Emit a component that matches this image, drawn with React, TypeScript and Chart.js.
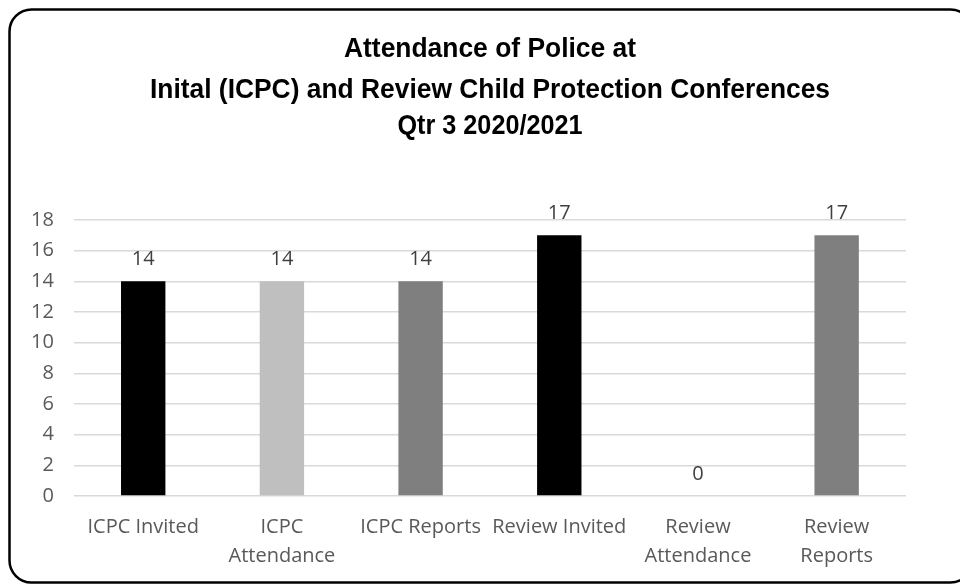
import React, { useEffect, useRef } from "react";
import { Chart, registerables } from "chart.js";

Chart.register(...registerables);

const categories: (string | string[])[] = [
  "ICPC Invited",
  ["ICPC", "Attendance"],
  "ICPC Reports",
  "Review Invited",
  ["Review", "Attendance"],
  ["Review", "Reports"],
];
const values = [14, 14, 14, 17, 0, 17];
const barColors = ["#000000", "#bfbfbf", "#7f7f7f", "#000000", "#bfbfbf", "#7f7f7f"];
const titleLines = [
  "Attendance of Police at",
  "Inital (ICPC) and Review Child Protection Conferences",
  "Qtr 3 2020/2021",
];
const yMin = 0;
const yMax = 18;
const yStep = 2;

const TICK_FONT = "'Open Sans', sans-serif";

const titlePlugin = {
  id: "customTitle",
  afterDraw(chart: any) {
    const ctx = chart.ctx;
    const widths = [292, 680, 185];
    const baselines = [57, 98, 134];
    ctx.save();
    ctx.font = "bold 27px 'Liberation Sans', Arial, sans-serif";
    ctx.fillStyle = "#000000";
    ctx.textAlign = "center";
    ctx.textBaseline = "alphabetic";
    titleLines.forEach((line, i) => {
      ctx.fillText(line, 490, baselines[i], widths[i]);
    });
    ctx.restore();
  },
};

const labelPlugin = {
  id: "valueLabels",
  afterDatasetsDraw(chart: any) {
    const ctx = chart.ctx;
    const meta = chart.getDatasetMeta(0);
    ctx.save();
    ctx.font = `20px ${TICK_FONT}`;
    ctx.fillStyle = "#404040";
    ctx.textAlign = "center";
    ctx.textBaseline = "middle";
    meta.data.forEach((bar: any, i: number) => {
      ctx.fillText(String(values[i]), bar.x, bar.y - 22);
    });
    ctx.restore();
  },
};

const borderPlugin = {
  id: "frame",
  afterDraw(chart: any) {
    const ctx = chart.ctx;
    ctx.save();
    ctx.strokeStyle = "#000000";
    ctx.lineWidth = 2.5;
    ctx.beginPath();
    ctx.roundRect(9.5, 9.5, 963, 573, 22);
    ctx.stroke();
    ctx.restore();
  },
};

export default function App() {
  const ref = useRef<HTMLCanvasElement>(null);
  useEffect(() => {
    if (!ref.current) return;
    const chart = new Chart(ref.current, {
      type: "bar",
      data: {
        labels: categories,
        datasets: [
          {
            data: values,
            backgroundColor: barColors,
            barPercentage: 0.32,
            categoryPercentage: 1,
          },
        ],
      },
      options: {
        responsive: false,
        animation: false,
        layout: { padding: { left: 11, right: 54, top: 220, bottom: 0 } },
        plugins: {
          legend: { display: false },
          tooltip: { enabled: false },
          title: { display: false },
        },
        scales: {
          x: {
            grid: { display: false, drawTicks: false },
            border: { display: false },
            ticks: {
              color: "#595959",
              font: { family: TICK_FONT, size: 20, lineHeight: 1.45 },
              padding: 17,
              maxRotation: 0,
              autoSkip: false,
            },
          },
          y: {
            min: yMin,
            max: yMax,
            grid: { color: "#d9d9d9", lineWidth: 1.5, drawTicks: false },
            border: { display: false },
            ticks: {
              stepSize: yStep,
              color: "#595959",
              font: { family: TICK_FONT, size: 20 },
              padding: 20,
            },
          },
        },
      },
      plugins: [labelPlugin, titlePlugin, borderPlugin],
    });
    return () => chart.destroy();
  }, []);
  return (
    <div style={{ position: "fixed", left: 0, top: 0, width: 960, height: 585, overflow: "hidden", background: "#ffffff" }}>
      <canvas ref={ref} width={960} height={588} />
    </div>
  );
}
